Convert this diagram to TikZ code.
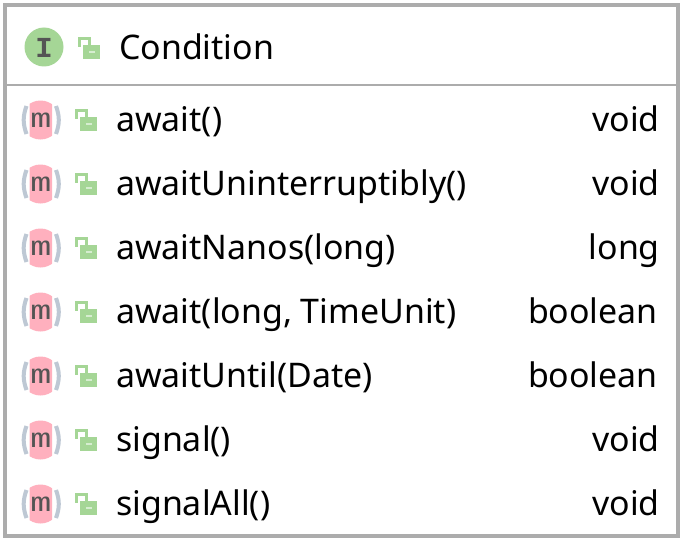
\documentclass[tikz,border=0pt]{standalone}
\usepackage{fontspec}
\setmainfont{Noto Sans}
\newfontfamily\iconfont{Liberation Mono}
\definecolor{umlframe}{RGB}{172,172,172}
\definecolor{umlgreen}{RGB}{165,214,150}
\definecolor{umlpink}{RGB}{255,176,190}
\definecolor{umlarc}{RGB}{190,200,212}
\definecolor{umlicon}{RGB}{84,84,84}
\usetikzlibrary{positioning}
\begin{document}
\begin{tikzpicture}[
  x=1pt, y=1pt,
  membertext/.style={font=\fontsize{33.9}{40}\selectfont, text=black, inner sep=0pt},
  lockicon/.pic={
    \fill[umlgreen] (-6,3) rectangle (11,-11);
    \fill[umlgreen!45] (0,-3) rectangle (6,-5);
    \draw[umlgreen, line width=3.2pt] (0.5,3) -- (0.5,9.5) -- (-9.5,9.5) -- (-9.5,1);
  },
  methodicon/.pic={
    \draw[umlarc, line width=4pt] (-13.5,14) to[bend right=20] (-13.5,-14);
    \draw[umlarc, line width=4pt] (16,14) to[bend left=20] (16,-14);
    \begin{scope}
      \clip (-10.5,-21) rectangle (12,21);
      \fill[umlpink] (0.5,0) circle (19.5);
    \end{scope}
    \node[font=\iconfont\fontsize{27}{30}\selectfont, text=umlicon, inner sep=0pt, xscale=1.3] (glyph) at (1,0) {m};
  }
]
\useasboundingbox (0,0) rectangle (685,-543);
\fill[white] (0,0) rectangle (685,-543);
\draw[umlframe, line width=4.5pt] (5,-5) rectangle (678,-536);
\draw[umlframe, line width=2.5pt] (5,-85) -- (678,-85);
% header
\fill[umlgreen] (44,-47) circle (19.5);
\node[font=\iconfont\bfseries\fontsize{29}{32}\selectfont, text=umlicon, inner sep=0pt] (iconI) at (44,-47.5) {I};
\pic at (89,-48) {lockicon};
\node[membertext, anchor=base west] (title) at (119,-59.5) {Condition};
% members
\pic at (40,-120) {methodicon};
\pic at (86,-120) {lockicon};
\node[membertext, anchor=base west] (m1) at (116,-131) {await()};
\node[membertext, anchor=base east] (t1) at (660,-131) {void};
\pic at (40,-184) {methodicon};
\pic at (86,-184) {lockicon};
\node[membertext, anchor=base west] (m2) at (116,-195) {awaitUninterruptibly()};
\node[membertext, anchor=base east] (t2) at (660,-195) {void};
\pic at (40,-248) {methodicon};
\pic at (86,-248) {lockicon};
\node[membertext, anchor=base west] (m3) at (116,-259) {awaitNanos(long)};
\node[membertext, anchor=base east] (t3) at (660,-259) {long};
\pic at (40,-312) {methodicon};
\pic at (86,-312) {lockicon};
\node[membertext, anchor=base west] (m4) at (116,-323) {await(long, TimeUnit)};
\node[membertext, anchor=base east] (t4) at (658,-323) {boolean};
\pic at (40,-376) {methodicon};
\pic at (86,-376) {lockicon};
\node[membertext, anchor=base west] (m5) at (116,-387) {awaitUntil(Date)};
\node[membertext, anchor=base east] (t5) at (658,-387) {boolean};
\pic at (40,-440) {methodicon};
\pic at (86,-440) {lockicon};
\node[membertext, anchor=base west] (m6) at (116,-451) {signal()};
\node[membertext, anchor=base east] (t6) at (660,-451) {void};
\pic at (40,-504) {methodicon};
\pic at (86,-504) {lockicon};
\node[membertext, anchor=base west] (m7) at (116,-515) {signalAll()};
\node[membertext, anchor=base east] (t7) at (660,-515) {void};
\end{tikzpicture}
\end{document}
